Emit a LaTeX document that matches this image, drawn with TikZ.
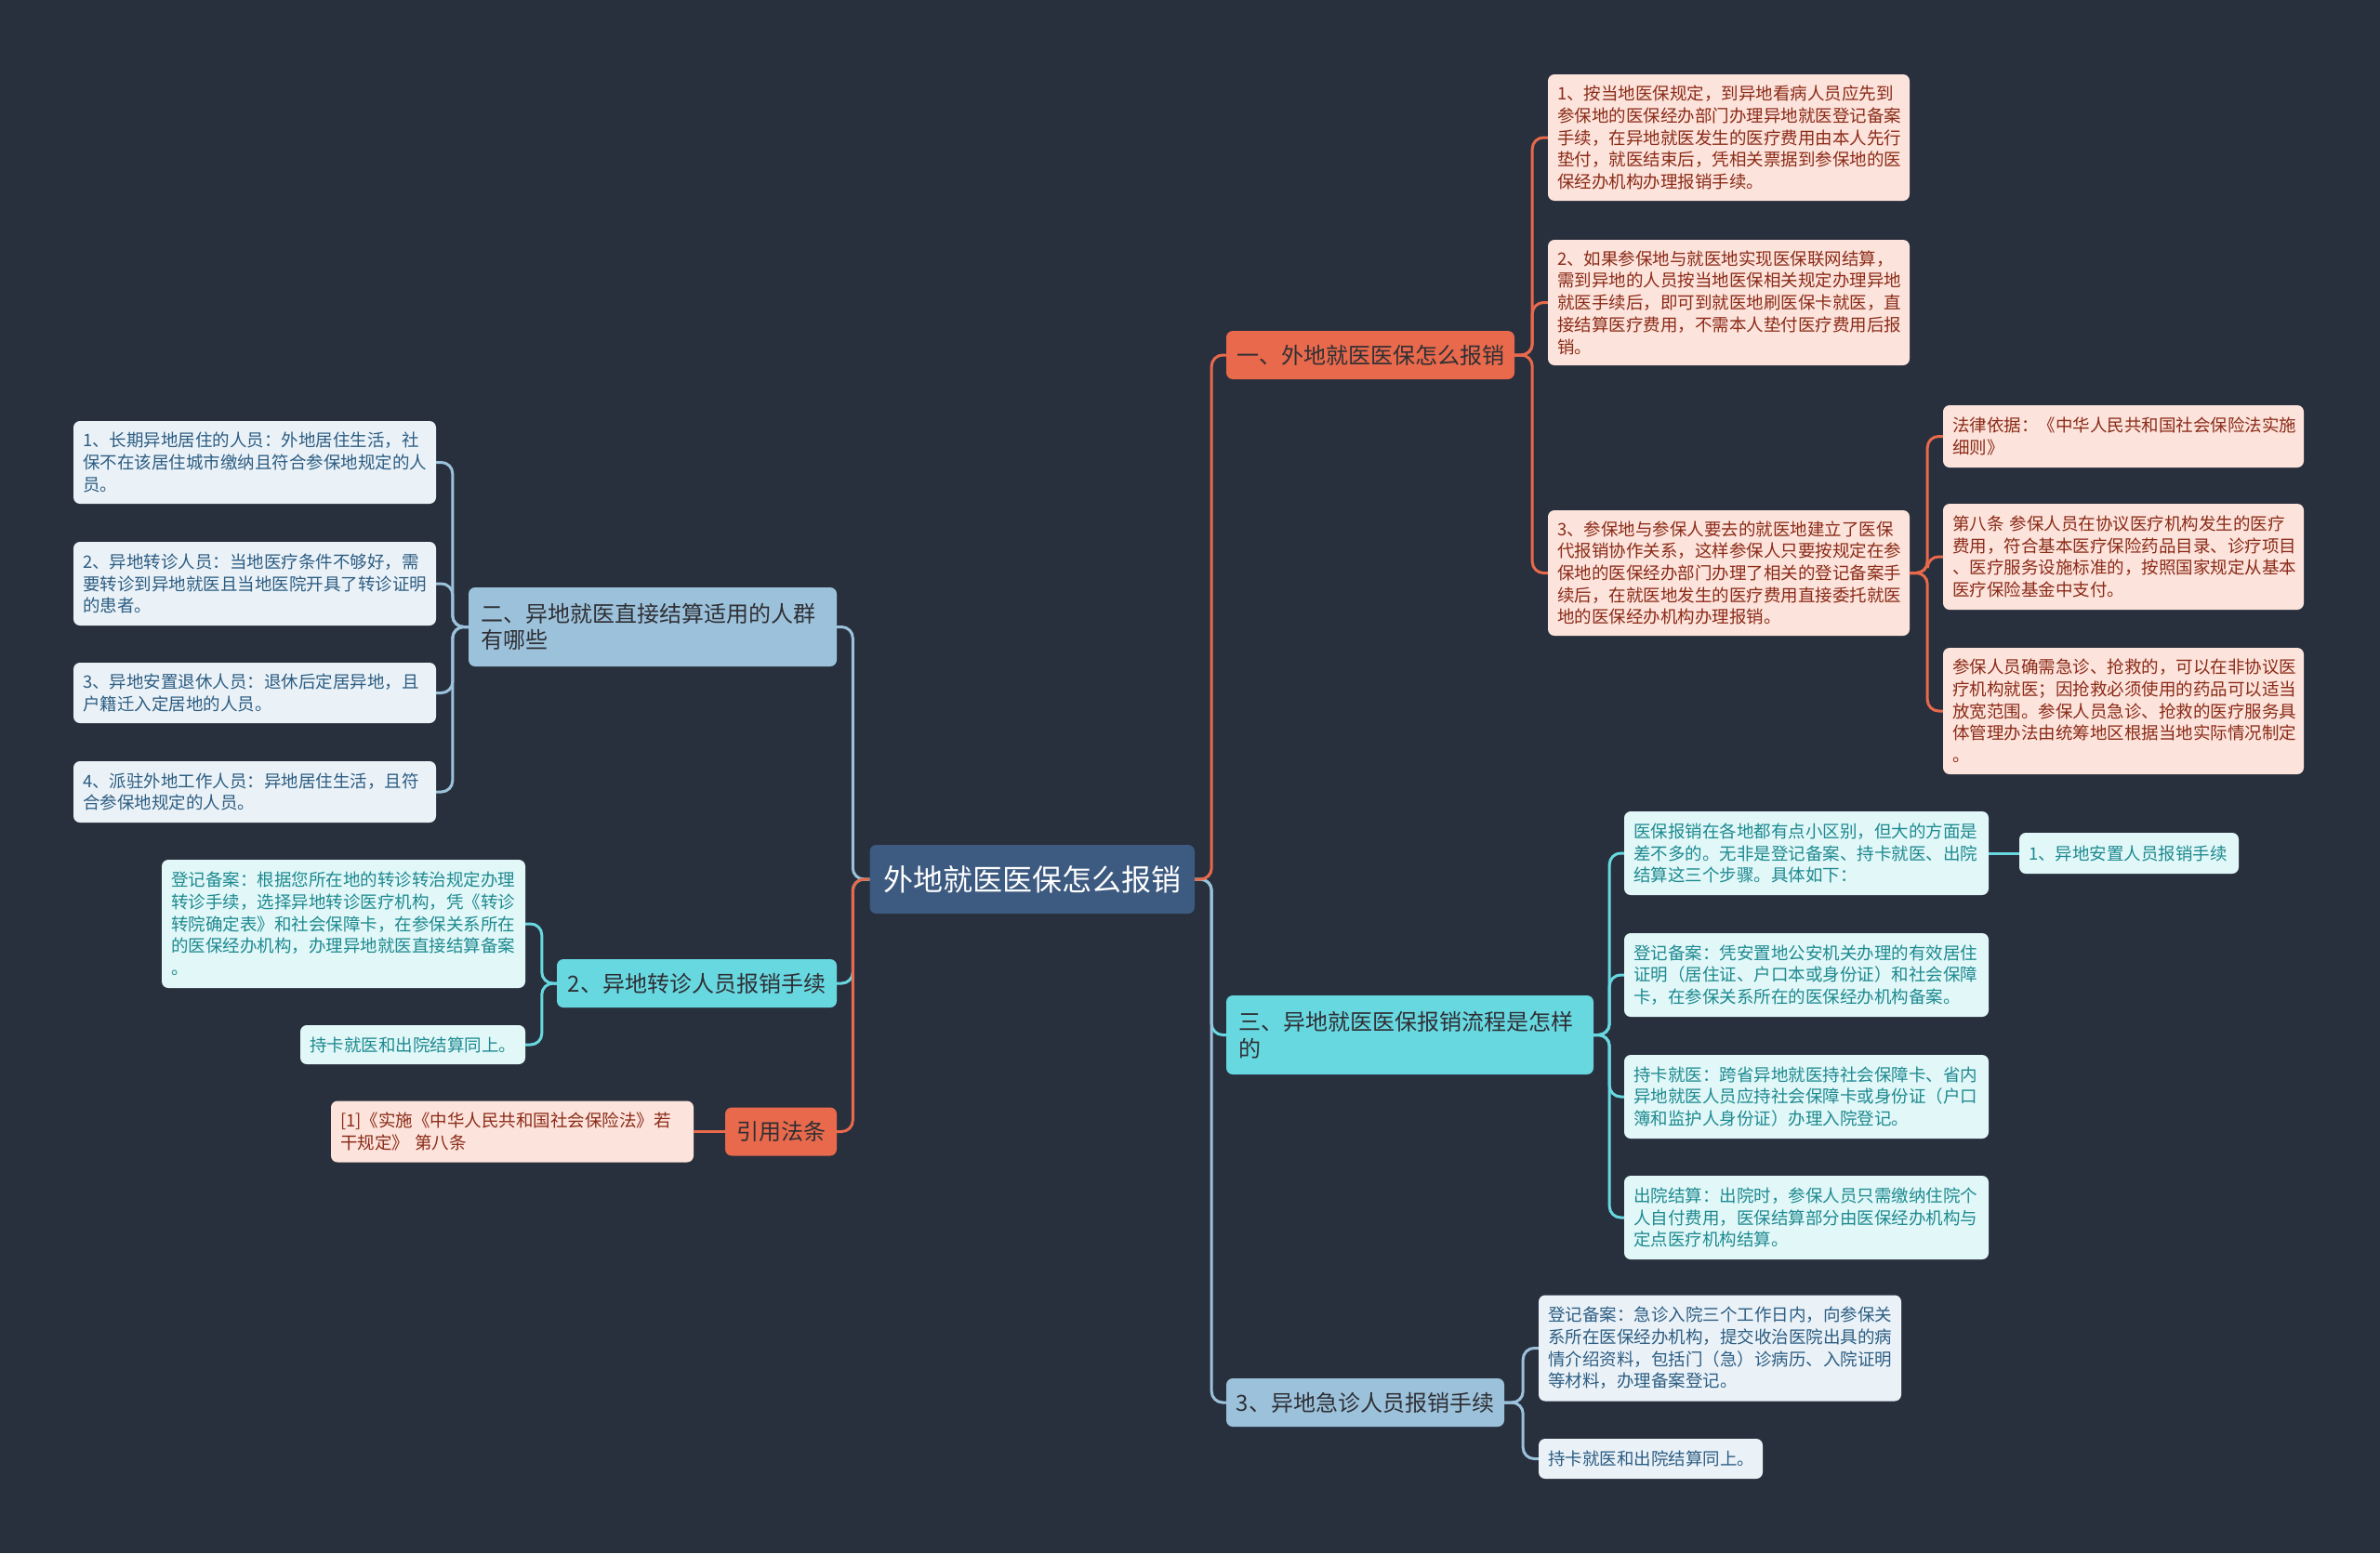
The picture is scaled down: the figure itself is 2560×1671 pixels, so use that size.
\documentclass[tikz,border=0pt]{standalone}
\usepackage{fontspec}
\setmainfont{Noto Sans CJK SC}
\definecolor{bgc}{HTML}{282F3D}
\definecolor{rootc}{HTML}{3D5A80}
\definecolor{orc}{HTML}{E8694B}
\definecolor{blc}{HTML}{9CC2DB}
\definecolor{cyc}{HTML}{67D8E0}
\definecolor{orleaf}{HTML}{FCE3DB}
\definecolor{ortext}{HTML}{8B2B18}
\definecolor{blleaf}{HTML}{EAF2F8}
\definecolor{bltext}{HTML}{2D5D82}
\definecolor{cyleaf}{HTML}{E1F7F8}
\definecolor{cytext}{HTML}{1E8A90}
\definecolor{brtext}{HTML}{2F2F35}
\begin{document}
\begin{tikzpicture}[x=1pt,y=-1pt,
  box/.style={rounded corners=7pt, inner sep=0pt, draw=none},
  rootbox/.style={box, fill=rootc, text=white, font=\fontsize{32}{38}\selectfont},
  brbox/.style={box, text=brtext, font=\fontsize{24}{28.3}\selectfont, align=left},
  brO/.style={brbox, fill=orc},
  brB/.style={brbox, fill=blc},
  brC/.style={brbox, fill=cyc},
  leafbox/.style={box, font=\fontsize{18.5}{23.7}\selectfont, align=left},
  lfO/.style={leafbox, fill=orleaf, text=ortext},
  lfB/.style={leafbox, fill=blleaf, text=bltext},
  lfC/.style={leafbox, fill=cyleaf, text=cytext},
  conn/.style={line width=3pt, rounded corners=12pt},
  cO/.style={conn, draw=orc},
  cB/.style={conn, draw=blc},
  cC/.style={conn, draw=cyc}
]
\fill[bgc] (0,0) rectangle (2560,1671);
\useasboundingbox (0,0) rectangle (2560,1671);

% root
\node[rootbox, minimum width=349.5, minimum height=74] (root) at (1110.25,946) {外地就医医保怎么报销};

% branch 1 (orange, right top)
\node[brO, minimum width=310, minimum height=52] (b1) at (1474,382) {一、外地就医医保怎么报销};
\node[lfO, minimum width=389, minimum height=136, text width=369] (l11) at (1859.5,148) {1、按当地医保规定，到异地看病人员应先到\\参保地的医保经办部门办理异地就医登记备案\\手续，在异地就医发生的医疗费用由本人先行\\垫付，就医结束后，凭相关票据到参保地的医\\保经办机构办理报销手续。};
\node[lfO, minimum width=389, minimum height=135, text width=369] (l12) at (1859.5,325.5) {2、如果参保地与就医地实现医保联网结算，\\需到异地的人员按当地医保相关规定办理异地\\就医手续后，即可到就医地刷医保卡就医，直\\接结算医疗费用，不需本人垫付医疗费用后报\\销。};
\node[lfO, minimum width=389, minimum height=135, text width=369] (l13) at (1859.5,616.5) {3、参保地与参保人要去的就医地建立了医保\\代报销协作关系，这样参保人只要按规定在参\\保地的医保经办部门办理了相关的登记备案手\\续后，在就医地发生的医疗费用直接委托就医\\地的医保经办机构办理报销。};
\node[lfO, minimum width=388, minimum height=67, text width=368] (l131) at (2284,469.5) {法律依据：《中华人民共和国社会保险法实施\\细则》};
\node[lfO, minimum width=388, minimum height=114, text width=368] (l132) at (2284,599) {第八条 参保人员在协议医疗机构发生的医疗\\费用，符合基本医疗保险药品目录、诊疗项目\\、医疗服务设施标准的，按照国家规定从基本\\医疗保险基金中支付。};
\node[lfO, minimum width=388, minimum height=136, text width=368] (l133) at (2284,765) {参保人员确需急诊、抢救的，可以在非协议医\\疗机构就医；因抢救必须使用的药品可以适当\\放宽范围。参保人员急诊、抢救的医疗服务具\\体管理办法由统筹地区根据当地实际情况制定\\。};

% branch 2 (blue, left top)
\node[brB, minimum width=396, minimum height=85, text width=370] (b2) at (702,674.5) {二、异地就医直接结算适用的人群\\有哪些};
\node[lfB, minimum width=390, minimum height=89, text width=370] (l21) at (274,497.5) {1、长期异地居住的人员：外地居住生活，社\\保不在该居住城市缴纳且符合参保地规定的人\\员。};
\node[lfB, minimum width=390, minimum height=90, text width=370] (l22) at (274,628) {2、异地转诊人员：当地医疗条件不够好，需\\要转诊到异地就医且当地医院开具了转诊证明\\的患者。};
\node[lfB, minimum width=390, minimum height=65, text width=370] (l23) at (274,745.5) {3、异地安置退休人员：退休后定居异地，且\\户籍迁入定居地的人员。};
\node[lfB, minimum width=390, minimum height=66, text width=370] (l24) at (274,852) {4、派驻外地工作人员：异地居住生活，且符\\合参保地规定的人员。};

% branch 3 (cyan, left)
\node[brC, minimum width=301, minimum height=52] (b3) at (749.5,1058) {2、异地转诊人员报销手续};
\node[lfC, minimum width=391, minimum height=138, text width=371] (l31) at (369.5,994) {登记备案：根据您所在地的转诊转治规定办理\\转诊手续，选择异地转诊医疗机构，凭《转诊\\转院确定表》和社会保障卡，在参保关系所在\\的医保经办机构，办理异地就医直接结算备案\\。};
\node[lfC, minimum width=242, minimum height=42, text width=222] (l32) at (444,1124) {持卡就医和出院结算同上。};

% branch 4 (orange, left bottom)
\node[brO, minimum width=120, minimum height=52] (b4) at (840,1217.5) {引用法条};
\node[lfO, minimum width=390, minimum height=66, text width=370] (l4) at (551,1217.5) {[1]《实施《中华人民共和国社会保险法》若\\干规定》 第八条};

% branch 5 (cyan, right)
\node[brC, minimum width=395, minimum height=85, text width=369] (b5) at (1516.5,1113.5) {三、异地就医医保报销流程是怎样\\的};
\node[lfC, minimum width=392, minimum height=90, text width=372] (l51) at (1943,918) {医保报销在各地都有点小区别，但大的方面是\\差不多的。无非是登记备案、持卡就医、出院\\结算这三个步骤。具体如下：};
\node[lfC, minimum width=236, minimum height=44, text width=216] (l511) at (2290,918) {1、异地安置人员报销手续};
\node[lfC, minimum width=392, minimum height=90, text width=372] (l52) at (1943,1049) {登记备案：凭安置地公安机关办理的有效居住\\证明（居住证、户口本或身份证）和社会保障\\卡，在参保关系所在的医保经办机构备案。};
\node[lfC, minimum width=392, minimum height=90, text width=372] (l53) at (1943,1180) {持卡就医：跨省异地就医持社会保障卡、省内\\异地就医人员应持社会保障卡或身份证（户口\\簿和监护人身份证）办理入院登记。};
\node[lfC, minimum width=392, minimum height=90, text width=372] (l54) at (1943,1310) {出院结算：出院时，参保人员只需缴纳住院个\\人自付费用，医保结算部分由医保经办机构与\\定点医疗机构结算。};

% branch 6 (blue, right bottom)
\node[brB, minimum width=299, minimum height=52] (b6) at (1468.5,1509) {3、异地急诊人员报销手续};
\node[lfB, minimum width=390, minimum height=114, text width=370] (l61) at (1850,1450.5) {登记备案：急诊入院三个工作日内，向参保关\\系所在医保经办机构，提交收治医院出具的病\\情介绍资料，包括门（急）诊病历、入院证明\\等材料，办理备案登记。};
\node[lfB, minimum width=241, minimum height=43, text width=221] (l62) at (1775.5,1569.5) {持卡就医和出院结算同上。};

% connectors from root
\draw[cC] (root.east) -- ++(18,0) |- (b5.west);
\draw[cB] (root.east) -- ++(18,0) |- (b6.west);
\draw[cO] (root.east) -- ++(18,0) |- (b1.west);
\draw[cB] (root.west) -- ++(-18,0) |- (b2.east);
\draw[cC] (root.west) -- ++(-18,0) |- (b3.east);
\draw[cO] (root.west) -- ++(-18,0) |- (b4.east);

% group connectors
\foreach \n in {l11,l12,l13} \draw[cO] (b1.east) -- ++(19,0) |- (\n.west);
\foreach \n in {l131,l132,l133} \draw[cO] (l13.east) -- ++(19,0) |- (\n.west);
\foreach \n in {l21,l22,l23,l24} \draw[cB] (b2.west) -- ++(-17,0) |- (\n.east);
\foreach \n in {l31,l32} \draw[cC] (b3.west) -- ++(-16,0) |- (\n.east);
\draw[cO] (b4.west) -- (l4.east);
\foreach \n in {l51,l52,l53,l54} \draw[cC] (b5.east) -- ++(17,0) |- (\n.west);
\draw[cC] (l51.east) -- (l511.west);
\foreach \n in {l61,l62} \draw[cB] (b6.east) -- ++(20,0) |- (\n.west);
\end{tikzpicture}
\end{document}
